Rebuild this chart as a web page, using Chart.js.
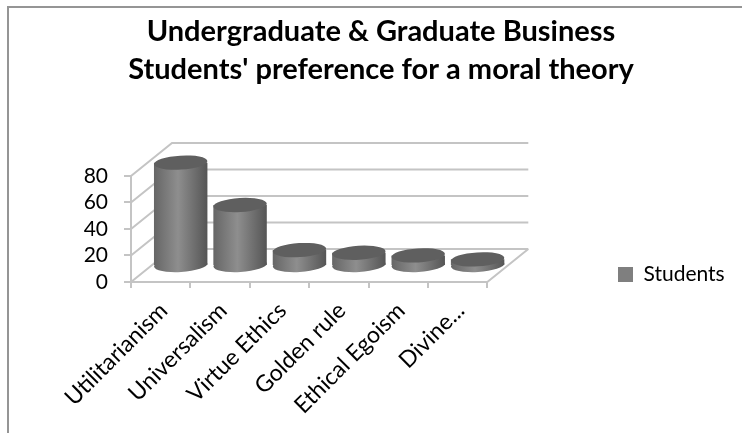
<!DOCTYPE html>
<html>
<head>
<meta charset="utf-8">
<title>Moral theory preference</title>
<script src="https://cdn.jsdelivr.net/npm/chart.js@4"></script>
<style>
  html, body { margin: 0; padding: 0; background: #fff; overflow: hidden; }
  #wrap { position: relative; width: 742px; height: 433px; }
  #frame { position: absolute; left: 7px; top: 6px; right: 0; bottom: 0; border-left: 2px solid #959595; border-top: 2px solid #959595; }
  canvas { position: absolute; left: 0; top: 0; filter: blur(0.4px); }
</style>
</head>
<body>
<div id="wrap">
  <div id="frame"></div>
  <canvas id="grafico" width="742" height="433"></canvas>
</div>
<script>
/* dados */
const categorias = ["Utilitarianism", "Universalism", "Virtue Ethics", "Golden rule", "Ethical Egoism", "Divine..."];
const alunos = [78, 46, 12, 10, 8, 5];
const ticksY = [0, 20, 40, 60, 80];
const titulo = ["Undergraduate & Graduate Business", "Students' preference for a moral theory"];

// profundidade do desenho "3D"
const FUNDO_X = 41, FUNDO_Y = -33;
const MEIO_X = 20, MEIO_Y = -16;
const COR_GRADE = "#c4c4c4";
const LARGURA_BARRA = 0.9;

/* ============================================================
   PAREDES E GRADE (atras das colunas)
============================================================ */
const paredes = {
  id: "paredes",
  beforeDatasetsDraw(chart) {
    const { ctx, scales, chartArea } = chart;
    const esq = chartArea.left, dir = chartArea.right;
    ctx.save();
    ctx.strokeStyle = COR_GRADE;
    ctx.lineWidth = 2;
    ticksY.forEach((v) => {
      const y = scales.y.getPixelForValue(v);
      ctx.beginPath();
      ctx.moveTo(esq, y);
      ctx.lineTo(esq + FUNDO_X, y + FUNDO_Y);
      ctx.lineTo(dir + FUNDO_X, y + FUNDO_Y);
      ctx.stroke();
    });
    // chao
    const base = scales.y.getPixelForValue(0);
    ctx.beginPath();
    ctx.moveTo(esq, base);
    ctx.lineTo(dir, base);
    ctx.lineTo(dir + FUNDO_X, base + FUNDO_Y);
    ctx.stroke();
    ctx.restore();
  },
};

/* ============================================================
   COLUNAS CILINDRICAS (usa os elementos de barra do Chart.js)
============================================================ */
function gradienteCilindro(ctx, x0, x1) {
  const g = ctx.createLinearGradient(x0, 0, x1, 0);
  g.addColorStop(0, "#666666");
  g.addColorStop(0.45, "#8e8e8e");
  g.addColorStop(1, "#555555");
  return g;
}

const cilindros = {
  id: "cilindros",
  beforeDatasetDraw(chart) {
    const { ctx } = chart;
    ctx.save();
    ctx.translate(MEIO_X, MEIO_Y);
    chart.getDatasetMeta(0).data.forEach((barra) => {
      const meia = barra.width / 2;
      ctx.beginPath();
      ctx.ellipse(barra.x, barra.base, meia, 7, -0.06, 0, Math.PI * 2);
      ctx.fillStyle = gradienteCilindro(ctx, barra.x - meia, barra.x + meia);
      ctx.fill();
    });
  },
  afterDatasetDraw(chart) {
    const { ctx } = chart;
    chart.getDatasetMeta(0).data.forEach((barra) => {
      const meia = barra.width / 2;
      ctx.beginPath();
      ctx.ellipse(barra.x, barra.y, meia, 7, -0.06, 0, Math.PI * 2);
      ctx.fillStyle = "#5f5f5f";
      ctx.fill();
    });
    ctx.restore();
  },
};

// titulo um pouco a direita do centro e legenda na altura do eixo
const ajusteLayout = {
  id: "ajusteLayout",
  afterLayout(chart) {
    chart.titleBlock.left = 20;
    chart.titleBlock.right = 742;
    const altura = chart.legend.bottom - chart.legend.top;
    chart.legend.left = 608;
    chart.legend.right = 742;
    chart.legend.bottom = 295;
    chart.legend.top = 295 - altura;
  },
};

new Chart(document.getElementById("grafico"), {
  type: "bar",
  data: {
    labels: categorias,
    datasets: [
      {
        label: "Students",
        data: alunos,
        clip: false,
        borderWidth: 0,
        barPercentage: LARGURA_BARRA,
        categoryPercentage: 1,
        backgroundColor(c) {
          const { chartArea, ctx, scales } = c.chart;
          if (!chartArea || c.dataIndex === undefined) return "#7f7f7f";
          const centro = scales.x.getPixelForValue(c.dataIndex);
          const meia = (chartArea.width / categorias.length) * LARGURA_BARRA / 2;
          return gradienteCilindro(ctx, centro - meia, centro + meia);
        },
      },
    ],
  },
  options: {
    responsive: false,
    animation: false,
    layout: { padding: { top: 0, left: 0, right: 128, bottom: 0 } },
    plugins: {
      title: {
        display: true,
        text: titulo,
        color: "#000",
        font: { family: "Lato", size: 29, weight: "bold", lineHeight: 1.31 },
        padding: { top: 13, bottom: 87 },
      },
      legend: {
        position: "right",
        align: "end",
        fullSize: false,
        labels: {
          color: "#000",
          font: { family: "Lato", size: 21 },
          boxWidth: 15,
          boxHeight: 15,
          generateLabels: () => [
            { text: "Students", fillStyle: "#7f7f7f", strokeStyle: "#7f7f7f", lineWidth: 0 },
          ],
        },
      },
      tooltip: { enabled: false },
    },
    scales: {
      x: {
        afterFit(axis) {
          axis.height = 151;
        },
        grid: { drawOnChartArea: false, color: COR_GRADE, lineWidth: 2, tickLength: 6, offset: true },
        border: { color: COR_GRADE, width: 2 },
        ticks: {
          color: "#000",
          font: { family: "Lato", size: 23 },
          maxRotation: 45,
          minRotation: 45,
          padding: 9,
          labelOffset: 3,
          autoSkip: false,
        },
      },
      y: {
        min: 0,
        max: 80,
        afterFit(axis) {
          axis.width = 131;
        },
        afterBuildTicks(axis) {
          axis.ticks = ticksY.map((v) => ({ value: v }));
        },
        grid: { drawOnChartArea: false, color: COR_GRADE, lineWidth: 2, tickLength: 7 },
        border: { color: COR_GRADE, width: 2 },
        ticks: { color: "#000", font: { family: "Lato", size: 21 }, padding: 16, autoSkip: false },
      },
    },
  },
  plugins: [paredes, cilindros, ajusteLayout],
});
</script>
</body>
</html>
